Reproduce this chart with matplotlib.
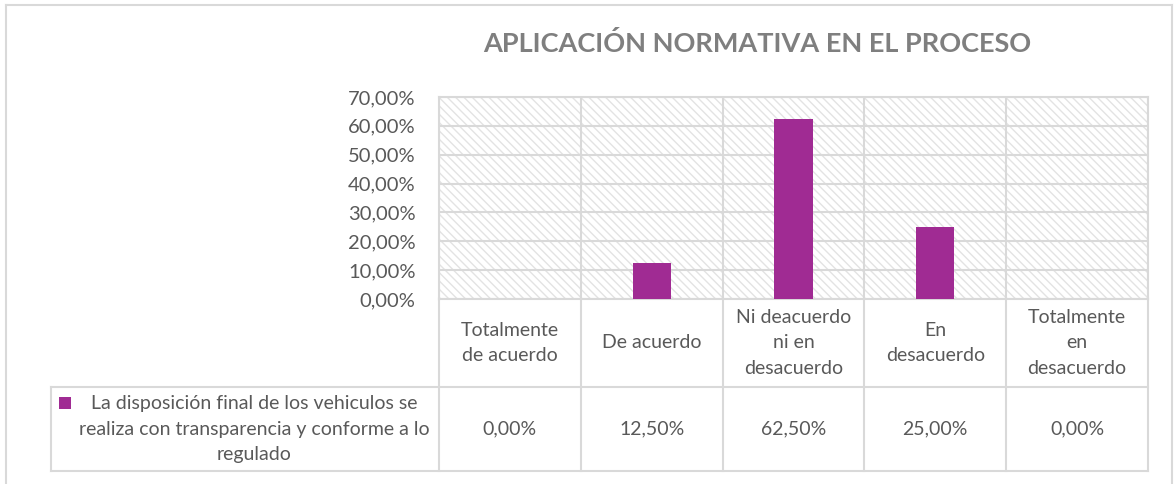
import matplotlib
matplotlib.use("Agg")
import matplotlib.pyplot as plt
from matplotlib.lines import Line2D
from matplotlib.patches import Rectangle
from matplotlib.ticker import FuncFormatter, MultipleLocator

title = "APLICACIÓN NORMATIVA EN EL PROCESO"
categories = ["Totalmente\nde acuerdo", "De acuerdo", "Ni deacuerdo\nni en\ndesacuerdo",
              "En\ndesacuerdo", "Totalmente\nen\ndesacuerdo"]
values = [0.0, 12.5, 62.5, 25.0, 0.0]
value_labels = ["0,00%", "12,50%", "62,50%", "25,00%", "0,00%"]
series_name = "La disposición final de los vehiculos se\nrealiza con transparencia y conforme a lo\nregulado"

W, H = 1174, 484
plt.rcParams['font.family'] = ['Lato', 'DejaVu Sans']
plt.rcParams['hatch.color'] = '#d9d9d9'
plt.rcParams['hatch.linewidth'] = 1.0
fig = plt.figure(figsize=(W / 100, H / 100), dpi=100)

TXT = '#595959'
GRID = '#d9d9d9'
BAR = '#a02b93'

x0, x1 = 439, 1148
y_top, y_bot = 97, 299
row1_bot, row2_bot = 387, 471
leg_left = 51

def fx(px):
    return px / W

def fy(py):
    return 1 - py / H

ax = fig.add_axes([fx(x0), fy(y_bot), fx(x1) - fx(x0), fy(y_top) - fy(y_bot)])
n = len(categories)
ax.set_xlim(-0.5, n - 0.5)
ax.set_ylim(0, 70)
ax.add_patch(Rectangle((-0.5, 0), n, 70, facecolor='white', edgecolor='#e3e3e3',
                       hatch='\\\\\\\\', linewidth=0, zorder=0))
ax.bar(range(n), values, width=0.27, color=BAR, zorder=3)
ax.yaxis.set_major_locator(MultipleLocator(10))
ax.yaxis.set_major_formatter(FuncFormatter(lambda v, p: f"{v:.2f}".replace('.', ',') + "%"))
ax.tick_params(axis='y', length=0, labelsize=14.5, labelcolor=TXT, pad=17)
ax.set_xticks([])
ax.grid(axis='y', color=GRID, linewidth=1.5, zorder=1)
for i in range(n + 1):
    ax.axvline(i - 0.5, color=GRID, linewidth=1.5, zorder=1)
for s in ax.spines.values():
    s.set_color(GRID)
    s.set_linewidth(1.5)

# data table lines
col_w = (x1 - x0) / n
def hline(py, xa, xb):
    fig.add_artist(Line2D([fx(xa), fx(xb)], [fy(py), fy(py)], color=GRID, linewidth=1.5))
def vline(px, ya, yb):
    fig.add_artist(Line2D([fx(px), fx(px)], [fy(ya), fy(yb)], color=GRID, linewidth=1.5))

hline(row1_bot, leg_left, x1)
hline(row2_bot, leg_left, x1)
vline(leg_left, row1_bot, row2_bot)
for i in range(n + 1):
    vline(x0 + i * col_w, y_bot, row2_bot)

for i, (c, v) in enumerate(zip(categories, value_labels)):
    cx = x0 + (i + 0.5) * col_w
    fig.text(fx(cx), fy((y_bot + row1_bot) / 2), c, ha='center', va='center',
             fontsize=14, color=TXT, linespacing=1.58)
    fig.text(fx(cx), fy((row1_bot + row2_bot) / 2), v, ha='center', va='center',
             fontsize=14, color=TXT)

fig.text(fx(254), fy((row1_bot + row2_bot) / 2), series_name,
         ha='center', va='center', fontsize=14, color=TXT, linespacing=1.58)
fig.add_artist(Rectangle((fx(59), fy(409)), fx(12), fy(397) - fy(409),
                         facecolor=BAR, edgecolor='none'))

fig.text(fx(757), fy(44), title, ha='center', va='center', fontsize=19.5,
         fontweight='bold', color='#7f7f7f')

# outer chart border
fig.add_artist(Line2D([fx(6), fx(1172)], [fy(5), fy(5)], color=GRID, linewidth=1.5))
fig.add_artist(Line2D([fx(6), fx(6)], [fy(5), 0], color=GRID, linewidth=1.5))
fig.add_artist(Line2D([fx(1172), fx(1172)], [fy(5), 0], color=GRID, linewidth=1.5))

fig.savefig("out.png", dpi=100, facecolor='white')
